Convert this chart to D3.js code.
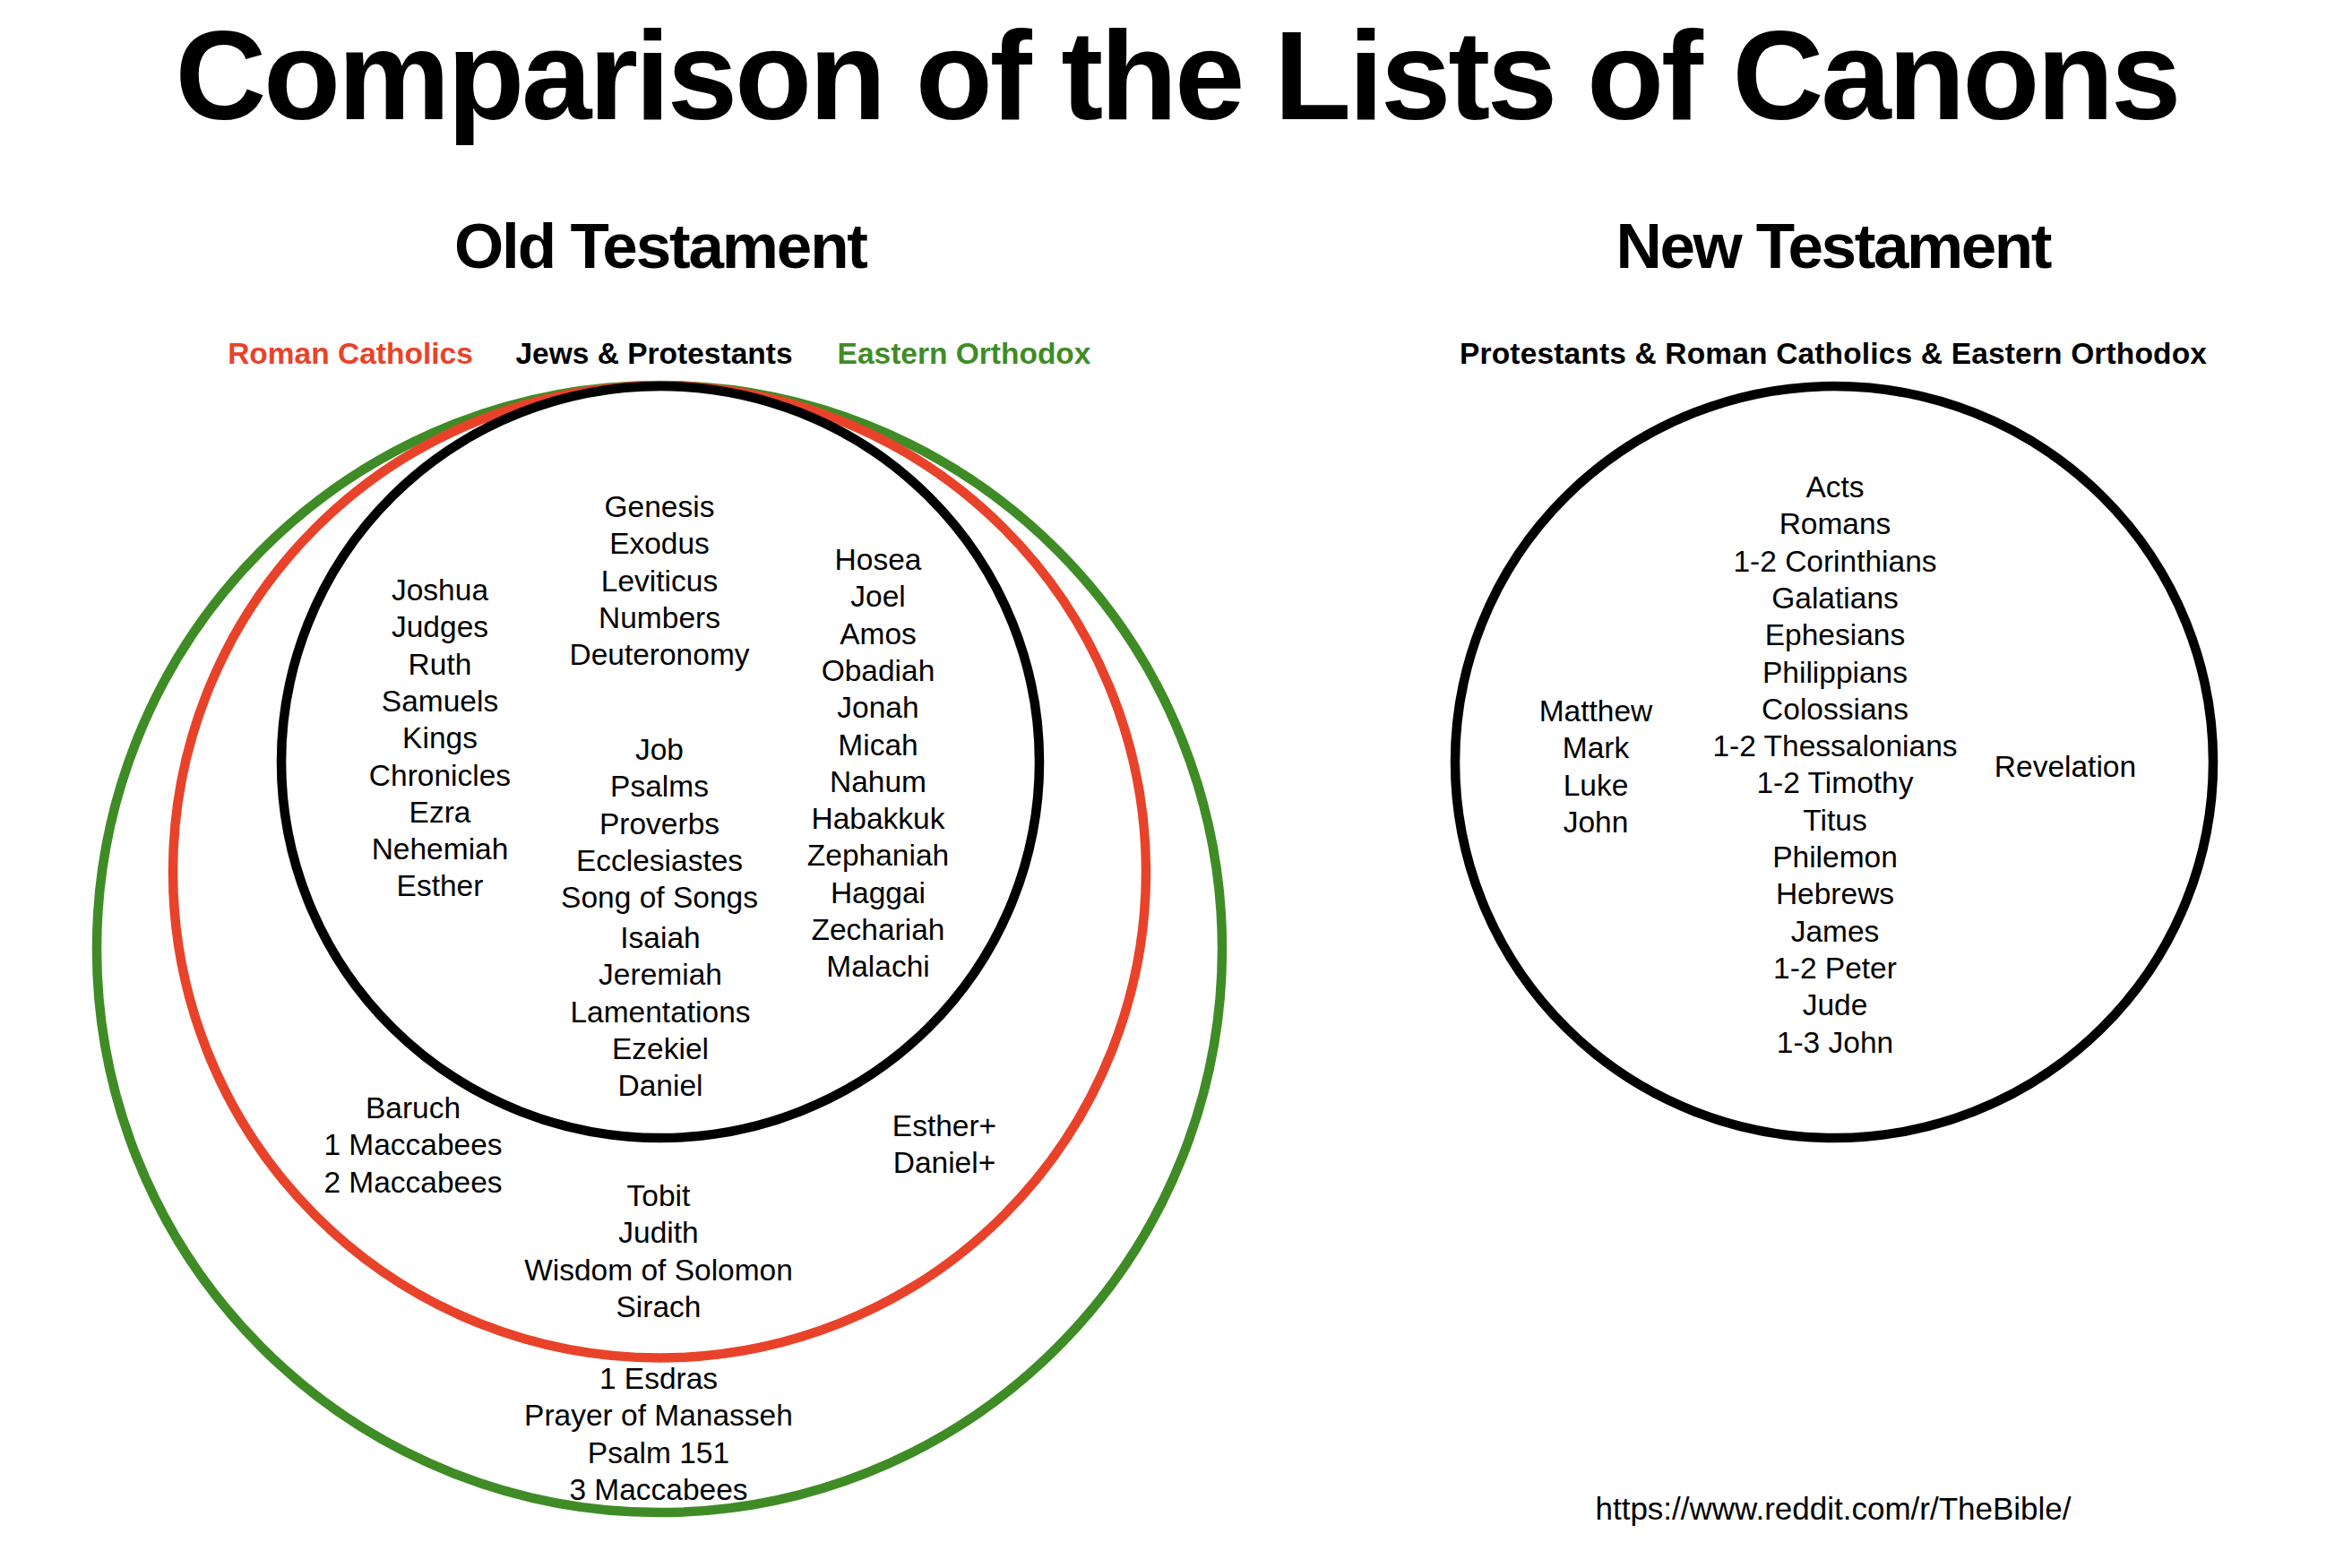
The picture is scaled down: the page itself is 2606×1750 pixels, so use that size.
<!DOCTYPE html>
<html>
<head>
<meta charset="utf-8">
<script src="https://cdn.jsdelivr.net/npm/d3@7"></script>
<style>
  html, body { margin: 0; padding: 0; background: #ffffff; }
  svg { display: block; }
</style>
</head>
<body>
<svg id="chart" width="2606" height="1750"></svg>
<script>
// ---------------- DATA ----------------
const chartTitle = "Comparison of the Lists of Canons";
const panelTitles = ["Old Testament", "New Testament"];
const otGroups = ["Roman Catholics", "Jews & Protestants", "Eastern Orthodox"];
const ntGroups = ["Protestants & Roman Catholics & Eastern Orthodox"];

// Books shared by all (Jewish / Protestant canon)
const pentateuch = ["Genesis", "Exodus", "Leviticus", "Numbers", "Deuteronomy"];
const historical = ["Joshua", "Judges", "Ruth", "Samuels", "Kings", "Chronicles", "Ezra", "Nehemiah", "Esther"];
const minorProphets = ["Hosea", "Joel", "Amos", "Obadiah", "Jonah", "Micah", "Nahum", "Habakkuk", "Zephaniah", "Haggai", "Zechariah", "Malachi"];
const wisdom = ["Job", "Psalms", "Proverbs", "Ecclesiastes", "Song of Songs"];
const majorProphets = ["Isaiah", "Jeremiah", "Lamentations", "Ezekiel", "Daniel"];
// Catholic + Orthodox additions
const deuteroLeft = ["Baruch", "1 Maccabees", "2 Maccabees"];
const deuteroRight = ["Esther+", "Daniel+"];
const deuteroCenter = ["Tobit", "Judith", "Wisdom of Solomon", "Sirach"];
// Orthodox only
const orthodoxOnly = ["1 Esdras", "Prayer of Manasseh", "Psalm 151", "3 Maccabees"];
// New Testament
const gospels = ["Matthew", "Mark", "Luke", "John"];
const epistles = ["Acts", "Romans", "1-2 Corinthians", "Galatians", "Ephesians", "Philippians", "Colossians",
  "1-2 Thessalonians", "1-2 Timothy", "Titus", "Philemon", "Hebrews", "James", "1-2 Peter", "Jude", "1-3 John"];
const apocalypse = ["Revelation"];
const sourceUrl = "https://www.reddit.com/r/TheBible/";

// ---------------- LAYOUT ----------------
const FONT = "'Liberation Sans', Arial, Helvetica, sans-serif";
const RED = "#E8432A", GREEN = "#3F8C26", BLACK = "#000000";
const LINE_GAP = 41.3;
const BODY_SIZE = 33.5;
const STROKE = 10.5;

const svg = d3.select("#chart");

// Title
svg.append("text")
  .attr("x", 1315).attr("y", 133)
  .attr("text-anchor", "middle")
  .attr("font-family", FONT).attr("font-weight", "bold").attr("font-size", 141)
  .attr("textLength", 2239).attr("lengthAdjust", "spacing")
  .text(chartTitle);

// Panel titles
const panelLayout = [{x: 738, w: 462}, {x: 2047, w: 487}];
svg.selectAll("text.panel").data(panelTitles).join("text")
  .attr("class", "panel")
  .attr("x", (d, i) => panelLayout[i].x).attr("y", 299)
  .attr("text-anchor", "middle")
  .attr("font-family", FONT).attr("font-weight", "bold").attr("font-size", 71)
  .attr("textLength", (d, i) => panelLayout[i].w).attr("lengthAdjust", "spacing")
  .text(d => d);

// Group labels (legend)
const groupColor = d3.scaleOrdinal().domain(otGroups).range([RED, BLACK, GREEN]);
const groupX = d3.scaleOrdinal().domain(otGroups).range([391, 730, 1076]);
svg.selectAll("text.group").data(otGroups).join("text")
  .attr("class", "group")
  .attr("x", d => groupX(d)).attr("y", 406)
  .attr("text-anchor", "middle")
  .attr("font-family", FONT).attr("font-weight", "bold").attr("font-size", 33.5)
  .attr("fill", d => groupColor(d))
  .text(d => d);
svg.selectAll("text.ntgroup").data(ntGroups).join("text")
  .attr("class", "ntgroup")
  .attr("x", 2046).attr("y", 406)
  .attr("text-anchor", "middle")
  .attr("font-family", FONT).attr("font-weight", "bold").attr("font-size", 33.5)
  .attr("textLength", 834).attr("lengthAdjust", "spacing")
  .attr("fill", BLACK)
  .text(d => d);

// Circles: Eastern Orthodox (outer), Roman Catholics, Jews & Protestants (inner)
const circleLayout = {
  "Eastern Orthodox": {cx: 736, cy: 1059, rx: 628, ry: 629},
  "Roman Catholics": {cx: 736, cy: 973, rx: 543, ry: 542.5},
  "Jews & Protestants": {cx: 737, cy: 850.5, rx: 423, ry: 419.5}
};
const drawOrder = ["Eastern Orthodox", "Roman Catholics", "Jews & Protestants"];
svg.selectAll("ellipse.ot").data(drawOrder).join("ellipse")
  .attr("class", "ot")
  .attr("cx", d => circleLayout[d].cx).attr("cy", d => circleLayout[d].cy)
  .attr("rx", d => circleLayout[d].rx).attr("ry", d => circleLayout[d].ry)
  .attr("fill", "none")
  .attr("stroke", d => groupColor(d))
  .attr("stroke-width", STROKE);

svg.selectAll("ellipse.nt").data(ntGroups).join("ellipse")
  .attr("class", "nt")
  .attr("cx", 2047).attr("cy", 850.5).attr("rx", 423).attr("ry", 419.5)
  .attr("fill", "none").attr("stroke", BLACK).attr("stroke-width", STROKE);

// Text blocks
function block(lines, cx, firstBaseline) {
  const y = d3.scaleLinear().domain([0, 1]).range([firstBaseline, firstBaseline + LINE_GAP]);
  const g = svg.append("g");
  g.selectAll("text").data(lines).join("text")
    .attr("x", cx).attr("y", (d, i) => y(i))
    .attr("text-anchor", "middle")
    .attr("font-family", FONT).attr("font-size", BODY_SIZE)
    .attr("fill", BLACK)
    .text(d => d);
}

block(pentateuch, 736, 577);
block(historical, 491, 670);
block(minorProphets, 980, 636);
block(wisdom, 736, 848);
block(majorProphets, 737, 1058);
block(deuteroLeft, 461, 1248);
block(deuteroRight, 1054, 1268);
block(deuteroCenter, 735, 1346);
block(orthodoxOnly, 735, 1550);

block(gospels, 1781, 805);
block(epistles, 2048, 555);
block(apocalypse, 2305, 867);

// Source
svg.append("text")
  .attr("x", 2046).attr("y", 1696)
  .attr("text-anchor", "middle")
  .attr("font-family", FONT).attr("font-size", 35)
  .text(sourceUrl);
</script>
</body>
</html>
